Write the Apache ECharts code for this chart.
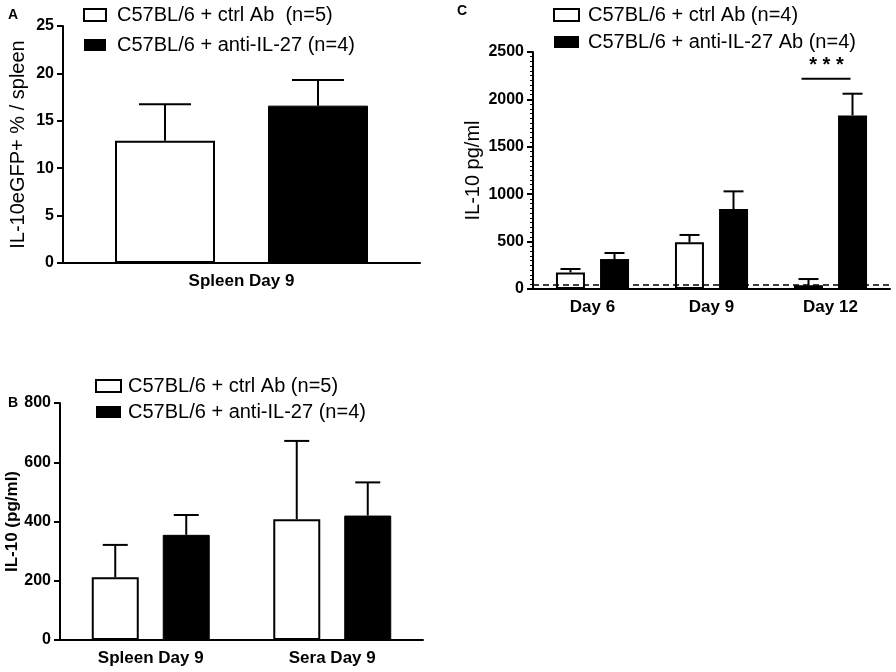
<!DOCTYPE html>
<html>
<head>
<meta charset="utf-8">
<script src="https://cdn.jsdelivr.net/npm/echarts@6/dist/echarts.min.js"></script>
<style>
html,body{margin:0;padding:0;background:#fff;}
#main{width:896px;height:672px;}
</style>
</head>
<body>
<div id="main"></div>
<script>
// panel A
var catsA = ['Spleen Day 9'];
var namesA = ['C57BL/6 + ctrl Ab  (n=5)', 'C57BL/6 + anti-IL-27 (n=4)'];
var ctrlA = [12.9];
var ctrlErrA = [16.75];
var antiA = [16.6];
var antiErrA = [19.3];

// panel B
var catsB = ['Spleen Day 9', 'Sera Day 9'];
var namesB = ['C57BL/6 + ctrl Ab (n=5)', 'C57BL/6 + anti-IL-27 (n=4)'];
var ctrlB = [212, 408];
var ctrlErrB = [321, 672];
var antiB = [355, 420];
var antiErrB = [422, 532];

// panel C
var catsC = ['Day 6', 'Day 9', 'Day 12'];
var namesC = ['C57BL/6 + ctrl Ab (n=4)', 'C57BL/6 + anti-IL-27 Ab (n=4)'];
var ctrlC = [175, 492, 40];
var ctrlErrC = [211, 570, 105];
var antiC = [316, 844, 1831];
var antiErrC = [380, 1030, 2060];
var detectLimit = 45;
var sigC = [[2, 2218]];

var FONT = 'Liberation Sans, Arial, sans-serif';

var chart = echarts.init(document.getElementById('main'));

function yAx(grid, max, interval, name, gap, bold, size, minor) {
    return {
        type: 'value', gridIndex: grid, min: 0, max: max, interval: interval,
        name: name, nameLocation: 'middle', nameGap: gap,
        nameTextStyle: {color: '#000', fontFamily: FONT, fontSize: size, fontWeight: bold ? 'bold' : 'normal'},
        axisLine: {show: true, lineStyle: {color: '#000', width: 2}},
        axisTick: {show: true, length: 6, lineStyle: {color: '#000', width: 2}},
        minorTick: {show: !!minor, splitNumber: 10, length: 3, lineStyle: {color: '#000', width: 1}},
        axisLabel: {color: '#000', fontFamily: FONT, fontSize: 16, fontWeight: 'bold', margin: 9,
            formatter: function (v) { return String(v); }},
        splitLine: {show: false}
    };
}

function xAx(grid, cats) {
    return {
        type: 'category', gridIndex: grid, data: cats,
        axisLine: {lineStyle: {color: '#000', width: 2}},
        axisTick: {alignWithLabel: true, length: 6, lineStyle: {color: '#000', width: 2}},
        axisLabel: {color: '#000', fontFamily: FONT, fontSize: 17, fontWeight: 'bold', margin: 10}
    };
}

function bars(name, data, idx, white, bw, gap) {
    return {
        name: name, type: 'bar', xAxisIndex: idx, yAxisIndex: idx, data: data,
        barWidth: bw, barGap: gap, z: 3,
        itemStyle: white ? {color: '#fff', borderColor: '#000', borderWidth: 2} : {color: '#000', borderColor: '#000', borderWidth: 1},
        emphasis: {disabled: true}
    };
}

// error bar sitting on top of a bar, shifted by its dodge offset
function errs(vals, tops, idx, offset, cap) {
    var d = vals.map(function (v, i) { return [i, v, tops[i]]; });
    return {
        type: 'custom', xAxisIndex: idx, yAxisIndex: idx, data: d, z: 2, silent: true,
        renderItem: function (params, api) {
            var lo = api.coord([api.value(0), api.value(1)]);
            var hi = api.coord([api.value(0), api.value(2)]);
            var x = lo[0] + offset;
            var st = {stroke: '#000', lineWidth: 2};
            return {type: 'group', children: [
                {type: 'line', shape: {x1: x, y1: lo[1], x2: x, y2: hi[1]}, style: st},
                {type: 'line', shape: {x1: x - cap / 2, y1: hi[1], x2: x + cap / 2, y2: hi[1]}, style: st}
            ]};
        }
    };
}

function legend(names, top, left, gap, iw, pad) {
    return {
        top: top, left: left, orient: 'vertical', itemGap: gap, selectedMode: false,
        itemWidth: iw, itemHeight: 12, icon: 'rect',
        textStyle: {color: '#000', fontFamily: FONT, fontSize: 20, lineHeight: 20, padding: [0, 0, 0, pad]},
        data: [
            {name: names[0], itemStyle: {color: '#fff', borderColor: '#000', borderWidth: 2}},
            {name: names[1], itemStyle: {color: '#000', borderColor: '#000', borderWidth: 0}}
        ]
    };
}

var option = {
    backgroundColor: '#fff',
    animation: false,
    grid: [
        {left: 63, top: 26, width: 357, height: 237},
        {left: 60, top: 403, width: 363, height: 237},
        {left: 533, top: 52, width: 357, height: 237}
    ],
    xAxis: [xAx(0, catsA), xAx(1, catsB), xAx(2, catsC)],
    yAxis: [
        yAx(0, 25, 5, 'IL-10eGFP+ % / spleen', 35, false, 20),
        yAx(1, 800, 200, 'IL-10 (pg/ml)', 38, true, 17),
        yAx(2, 2500, 500, 'IL-10 pg/ml', 50, false, 20, true)
    ],
    legend: [
        legend(namesA, 0, 78, 10, 22, 6),
        legend(namesB, 371, 90, 6, 25, 2),
        legend(namesC, 0, 548, 7, 25, 4)
    ],
    graphic: [
        {type: 'text', left: 8, top: 8, style: {text: 'A', font: 'bold 14px ' + FONT, fill: '#000'}},
        {type: 'text', left: 8, top: 396, style: {text: 'B', font: 'bold 14px ' + FONT, fill: '#000'}},
        {type: 'text', left: 457, top: 4, style: {text: 'C', font: 'bold 14px ' + FONT, fill: '#000'}}
    ],
    series: [
        errs(ctrlA, ctrlErrA, 0, -76.5, 52),
        errs(antiA, antiErrA, 0, 76.5, 52),
        bars(namesA[0], ctrlA, 0, true, 100, '53%'),
        bars(namesA[1], antiA, 0, false, 100, '53%'),

        errs(ctrlB, ctrlErrB, 1, -35.5, 25),
        errs(antiB, antiErrB, 1, 35.5, 25),
        bars(namesB[0], ctrlB, 1, true, 47, '51%'),
        bars(namesB[1], antiB, 1, false, 47, '51%'),

        errs(ctrlC, ctrlErrC, 2, -22, 20),
        errs(antiC, antiErrC, 2, 22, 20),
        bars(namesC[0], ctrlC, 2, true, 29, '52%'),
        {
            name: namesC[1], type: 'bar', xAxisIndex: 2, yAxisIndex: 2, data: antiC,
            barWidth: 29, barGap: '52%', z: 3,
            itemStyle: {color: '#000'},
            emphasis: {disabled: true},
            markLine: {
                silent: true, symbol: 'none', z: 5,
                label: {show: false},
                lineStyle: {color: '#000', type: [6, 4], width: 1.5},
                data: [{yAxis: detectLimit}]
            }
        },
        {
            type: 'custom', xAxisIndex: 2, yAxisIndex: 2, data: sigC, silent: true, z: 4,
            renderItem: function (params, api) {
                var p = api.coord([api.value(0), api.value(1)]);
                return {type: 'group', children: [
                    {type: 'line', shape: {x1: p[0] - 29, y1: p[1], x2: p[0] + 20, y2: p[1]}, style: {stroke: '#000', lineWidth: 2}},
                    {type: 'text', x: p[0] - 4, y: p[1] - 3, style: {text: '* * *', font: 'bold 20px ' + FONT, fill: '#000', align: 'center', verticalAlign: 'bottom'}}
                ]};
            }
        }
    ]
};

chart.setOption(option);
window.addEventListener('resize', function () { chart.resize(); });
</script>
</body>
</html>
